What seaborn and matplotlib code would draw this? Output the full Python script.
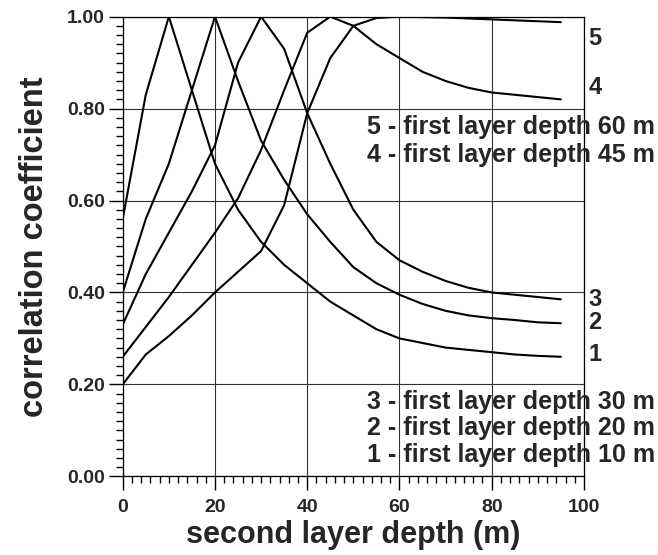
import numpy as np
import pandas as pd
import matplotlib
matplotlib.use("Agg")
import matplotlib.pyplot as plt
import seaborn as sns
from matplotlib.ticker import MultipleLocator, FormatStrFormatter

# second layer depth (m)
depth = [0, 5, 10, 15, 20, 25, 30, 35, 40, 45, 50, 55, 60, 65, 70, 75, 80, 85, 90, 95]

# correlation coefficient for each first layer depth
corr_10 = [0.56, 0.83, 1.00, 0.84, 0.68, 0.58, 0.51, 0.46, 0.42, 0.38, 0.35, 0.32,
           0.30, 0.29, 0.28, 0.275, 0.27, 0.265, 0.262, 0.26]
corr_20 = [0.40, 0.56, 0.68, 0.84, 1.00, 0.86, 0.73, 0.645, 0.57, 0.51, 0.455, 0.42,
           0.395, 0.375, 0.36, 0.35, 0.344, 0.34, 0.335, 0.333]
corr_30 = [0.33, 0.44, 0.53, 0.62, 0.72, 0.90, 1.00, 0.93, 0.79, 0.68, 0.58, 0.51,
           0.47, 0.445, 0.425, 0.41, 0.40, 0.395, 0.39, 0.385]
corr_45 = [0.26, 0.325, 0.39, 0.46, 0.53, 0.605, 0.71, 0.84, 0.965, 1.00, 0.98, 0.94,
           0.91, 0.88, 0.86, 0.845, 0.835, 0.83, 0.825, 0.82]
corr_60 = [0.20, 0.265, 0.305, 0.35, 0.40, 0.445, 0.49, 0.59, 0.79, 0.91, 0.98, 0.997,
           1.00, 0.999, 0.998, 0.996, 0.994, 0.992, 0.99, 0.988]

curve_ids = ["1", "2", "3", "4", "5"]
first_depths = [10, 20, 30, 45, 60]
series = [corr_10, corr_20, corr_30, corr_45, corr_60]

df = pd.concat(
    [pd.DataFrame({"depth": depth, "corr": s, "curve": c}) for s, c in zip(series, curve_ids)],
    ignore_index=True,
)

sns.set_style("white")
plt.rcParams["font.family"] = ["Liberation Sans", "DejaVu Sans"]
plt.rcParams["font.weight"] = "bold"

fig = plt.figure(figsize=(6.58, 5.55), dpi=100)
ax = fig.add_axes([0.1865, 0.1418, 0.701, 0.8282])

sns.lineplot(data=df, x="depth", y="corr", hue="curve", palette=["black"] * 5,
             legend=False, linewidth=1.5, ax=ax)

ax.set_xlim(0, 100)
ax.set_ylim(0, 1)
ax.xaxis.set_major_locator(MultipleLocator(20))
ax.xaxis.set_minor_locator(MultipleLocator(2))
ax.yaxis.set_major_locator(MultipleLocator(0.2))
ax.yaxis.set_minor_locator(MultipleLocator(0.02))
ax.yaxis.set_major_formatter(FormatStrFormatter("%.2f"))

ax.grid(True, which="major", color="#333333", linewidth=0.8)
for sp in ax.spines.values():
    sp.set_color("black")
    sp.set_linewidth(0.9)

ax.tick_params(axis="both", which="major", direction="out", length=10, width=1,
               labelsize=14, left=True, bottom=True, color="black")
ax.tick_params(axis="both", which="minor", direction="out", length=5, width=1,
               left=True, bottom=True, color="black")
ax.tick_params(axis="y", which="major", pad=3)
ax.tick_params(axis="x", which="major", pad=6)
for lab in ax.get_xticklabels() + ax.get_yticklabels():
    lab.set_fontweight("bold")

ax.set_xlabel("second layer depth (m)", fontsize=22, fontweight="bold", labelpad=3)
ax.set_ylabel("correlation coefficient", fontsize=23.5, fontweight="bold", labelpad=12)

# curve numbers at the right end
label_y = [0.264, 0.334, 0.384, 0.845, 0.953]
for cid, ly in zip(curve_ids, label_y):
    ax.text(101.0, ly, cid, fontsize=17, fontweight="bold", ha="left", va="center",
            clip_on=False)

# legend texts
legend_y = {"5": 0.76, "4": 0.70, "3": 0.162, "2": 0.105, "1": 0.046}
for cid, fd in zip(curve_ids, first_depths):
    ax.text(53.0, legend_y[cid], f"{cid} - first layer depth {fd} m", fontsize=18,
            fontweight="bold", ha="left", va="center", clip_on=False)

fig.savefig("out.png", dpi=100)
